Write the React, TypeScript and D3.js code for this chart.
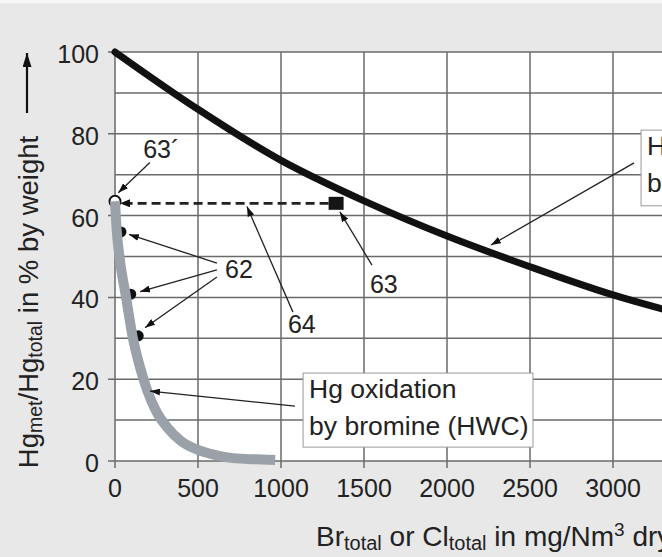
import React from 'react';
import * as d3 from 'd3';

// Hg oxidation by chlorine (black) - Br/Cl total vs Hg_met share
const chlorineX = [0, 500, 1000, 1500, 2000, 2500, 3000, 3500];
const chlorineY = [100, 86, 73.5, 63.6, 55, 47.5, 40.6, 35];

// Hg oxidation by bromine (HWC) (grey)
const bromineX = [0, 10, 30, 66, 106, 150, 193, 250, 313, 400, 500, 600, 711, 850, 965];
const bromineY = [63.5, 56.5, 49, 40.2, 30.4, 23, 17.4, 12, 8.3, 4.8, 2.7, 1.5, 0.7, 0.4, 0.25];

// measured points "62" and the start point "63´"
const pointsX = [36, 95, 140];
const pointsY = [56, 40.8, 30.6];
const startPoint = [0, 63.5];
const squarePoint = [1335, 63];

const xTicks = [0, 500, 1000, 1500, 2000, 2500, 3000, 3500];
const yTicks = [0, 20, 40, 60, 80, 100];
const yGrid = [0, 10, 20, 30, 40, 50, 60, 70, 80, 90, 100];

// annotations, in data units: label [x, y], arrows [x1, y1, x2, y2]
const ann63p = { text: '63´', at: [170, 74], arrows: [[210, 73, 20, 65.6]] };
const ann62 = {
  text: '62', at: [663, 44.7],
  arrows: [[614, 48.4, 84, 55.4], [614, 46.7, 151, 41.4], [614, 45, 181, 32.6]],
};
const ann64 = { text: '64', at: [1042, 31.3], arrows: [[1072, 36.4, 795, 62.2]] };
const ann63 = { text: '63', at: [1536, 41.1], arrows: [[1548, 47.9, 1355, 60.9]] };
const boxBromine = { lines: ['Hg oxidation', 'by bromine (HWC)'], box: [1133, 21.5, 2518, 3.4], arrow: [1084, 13.4, 211, 17.1] };
const boxChlorine = { lines: ['Hg oxidation', 'by chlorine (HWC)'], box: [3169, 80.9, 3900, 62.4], arrow: [3127, 72.9, 2265, 52.8] };

const W = 662;
const H = 557;
const font = '"Liberation Sans", Arial, Helvetica, sans-serif';

export default function App() {
  const x = d3.scaleLinear().domain([0, 3500]).range([115, 696]);
  const y = d3.scaleLinear().domain([0, 100]).range([461, 52]);

  const line = d3.line<number>()
    .curve(d3.curveMonotoneX);

  const blackPath = line(chlorineX.map((v, i) => [x(v), y(chlorineY[i])]) as any);
  const greyPath = line(bromineX.map((v, i) => [x(v), y(bromineY[i])]) as any);

  const arrow = (a: number[], k: string) => (
    <line key={k} x1={x(a[0])} y1={y(a[1])} x2={x(a[2])} y2={y(a[3])}
      stroke="#222" strokeWidth={1.3} markerEnd="url(#ah)" />
  );

  const label = (a: { text: string; at: number[]; arrows: number[][] }, k: string) => (
    <g key={k}>
      <text x={x(a.at[0])} y={y(a.at[1])} fontSize={25}>{a.text}</text>
      {a.arrows.map((ar, i) => arrow(ar, k + i))}
    </g>
  );

  const textBox = (b: typeof boxBromine, k: string) => (
    <g key={k}>
      <rect x={x(b.box[0])} y={y(b.box[1])} width={x(b.box[2]) - x(b.box[0])} height={y(b.box[3]) - y(b.box[1])}
        fill="#fff" stroke="#999" strokeWidth={1} />
      {b.lines.map((t, i) => (
        <text key={i} x={x(b.box[0]) + 6} y={y(b.box[1]) + 25 + i * 37} fontSize={26.5}>{t}</text>
      ))}
      {arrow(b.arrow, k + 'a')}
    </g>
  );

  return (
    <svg width={W} height={H} style={{ position: 'absolute', left: 0, top: 0, display: 'block' }}
      fontFamily={font} fill="#222">
      <defs>
        <marker id="ah" viewBox="0 0 10 7" refX={10} refY={3.5} markerWidth={10} markerHeight={7}
          markerUnits="userSpaceOnUse" orient="auto">
          <path d="M0,0 L10,3.5 L0,7 z" fill="#111" />
        </marker>
        <marker id="ahDash" viewBox="0 0 10 8" refX={10} refY={4} markerWidth={11} markerHeight={8}
          markerUnits="userSpaceOnUse" orient="auto">
          <path d="M0,0 L10,4 L0,8 z" fill="#111" />
        </marker>
        <marker id="ahAxis" viewBox="0 0 14 9" refX={14} refY={4.5} markerWidth={14} markerHeight={9}
          markerUnits="userSpaceOnUse" orient="auto">
          <path d="M0,0 L14,4.5 L0,9 z" fill="#111" />
        </marker>
      </defs>

      <rect width={W} height={H} fill="#e8e8e8" />
      <rect width={W} height={3} fill="#f6f6f6" />
      <rect x={x(0)} y={y(100)} width={x(3500) - x(0)} height={y(0) - y(100)} fill="#fff" />

      {/* grid */}
      {xTicks.map(t => (
        <line key={'gx' + t} x1={x(t)} x2={x(t)} y1={y(100)} y2={y(0) + 7} stroke="#6a6a6a" strokeWidth={1.5} />
      ))}
      {yGrid.map(t => (
        <line key={'gy' + t} x1={x(0) - (t % 20 === 0 ? 7 : 0)} x2={x(3500)} y1={y(t)} y2={y(t)}
          stroke="#6a6a6a" strokeWidth={1.5} />
      ))}

      {/* tick labels */}
      {xTicks.map(t => (
        <text key={'tx' + t} x={x(t)} y={y(0) + 36} textAnchor="middle" fontSize={25}>{t}</text>
      ))}
      {yTicks.map(t => (
        <text key={'ty' + t} x={x(0) - 16} y={y(t) + 11} textAnchor="end" fontSize={25}>{t}</text>
      ))}

      {/* black curve */}
      <path d={blackPath || ''} fill="none" stroke="#111" strokeWidth={7} strokeLinecap="round" />

      {/* dashed line from square to start point */}
      <line x1={x(squarePoint[0]) - 8} y1={y(squarePoint[1])} x2={x(startPoint[0]) + 5} y2={y(squarePoint[1])}
        stroke="#222" strokeWidth={2.6} strokeDasharray="9 5" markerEnd="url(#ahDash)" />
      <rect x={x(squarePoint[0]) - 8} y={y(squarePoint[1]) - 6.5} width={15} height={13} fill="#151515" />

      {/* measured points */}
      <circle cx={x(startPoint[0])} cy={y(startPoint[1])} r={5.5} fill="#fff" stroke="#111" strokeWidth={2} />
      {pointsX.map((v, i) => (
        <circle key={'p' + i} cx={x(v)} cy={y(pointsY[i])} r={5.5} fill="#111" />
      ))}

      {/* grey curve */}
      <path d={greyPath || ''} fill="none" stroke="#9ba1a8" strokeWidth={10} strokeLinecap="butt" />

      {label(ann63p, 'a1')}
      {label(ann62, 'a2')}
      {label(ann64, 'a3')}
      {label(ann63, 'a4')}
      {textBox(boxBromine, 'b1')}
      {textBox(boxChlorine, 'b2')}

      {/* axis titles */}
      <text transform={`translate(38, 302) rotate(-90)`} textAnchor="middle" fontSize={27.5}>
        Hg<tspan fontSize={19.5} dy={4}>met</tspan><tspan dy={-4}>/Hg</tspan>
        <tspan fontSize={19.5} dy={4}>total</tspan><tspan dy={-4}> in % by weight</tspan>
      </text>
      <line x1={27} y1={113} x2={27} y2={53} stroke="#111" strokeWidth={2.2} markerEnd="url(#ahAxis)" />

      <text x={316} y={546} fontSize={28}>
        Br<tspan fontSize={20} dy={4}>total</tspan><tspan dy={-4}> or Cl</tspan>
        <tspan fontSize={20} dy={4}>total</tspan><tspan dy={-4}> in mg/Nm</tspan>
        <tspan fontSize={19} dy={-10}>3</tspan><tspan dy={10}> dry</tspan>
      </text>
    </svg>
  );
}
